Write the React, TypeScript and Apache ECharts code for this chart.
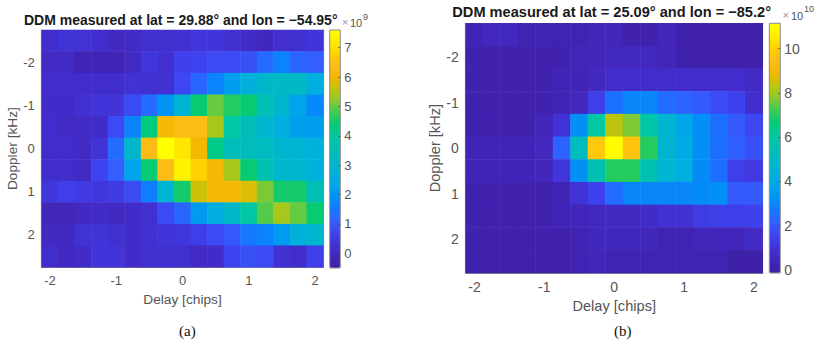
import React, { useEffect, useRef } from "react";
import * as echarts from "echarts";

const delays = ["-2","-1.75","-1.5","-1.25","-1","-0.75","-0.5","-0.25","0","0.25","0.5","0.75","1","1.25","1.5","1.75","2"];
const dopplers = ["-2.5","-2","-1.5","-1","-0.5","0","0.5","1","1.5","2","2.5"];

const ddmA: number[][] = [
  [0.15,0.3,0.3,0.15,0,0.05,0.2,0.2,0.2,0.4,0.35,0.2,0.1,-0.05,0.2,0.2,0.35],
  [0.05,0.05,-0.2,-0.2,-0.2,0.05,0.4,0.2,0.65,0.7,0.8,0.8,0.9,1.3,1.7,1.2,1.1],
  [0.15,0.15,0.15,0.15,0.15,0.3,0.25,0.25,0.75,1.2,1.7,2.2,2.7,3.1,3.2,3.2,2.6],
  [0.1,0.1,0.25,0.35,0.35,0.8,1.3,2.0,2.9,4.4,5.0,4.6,4.4,3.5,3.0,2.3,1.8],
  [0.15,0.05,0.05,0.1,0.8,1.7,4.3,6.1,6.3,6.3,5.4,3.9,3.4,3.0,2.6,2.2,2.2],
  [0.15,0.15,0.05,0.3,1.3,3.1,6.3,7.6,7.1,6.0,4.2,3.4,3.4,3.3,3.0,2.9,2.7],
  [0.15,0.15,0.05,0.7,1.1,2.3,4.4,6.3,7.3,6.8,6.1,5.4,4.4,3.6,3.0,3.0,2.7],
  [0.4,0.6,0.5,0.4,0.5,0.8,1.6,2.9,4.5,5.7,6.1,6.1,5.8,5.1,4.5,4.5,3.5],
  [-0.15,-0.15,0,0.1,0,0.1,0.2,0.8,1.2,2.1,2.6,3.1,3.9,4.9,5.4,5.0,4.4],
  [0,0,0.3,0.35,0.2,0.1,0.2,0.35,0.4,0.6,0.8,1.0,1.5,1.7,2.1,2.7,3.0],
  [0.15,0,0.1,0.35,0.35,0.1,0.2,0.2,0.2,0.05,0.1,0.7,0.9,0.8,0.25,0.15,0.6],
];

const ddmB: number[][] = [
  [0.2,0.5,0.5,0.15,0.15,0.15,0.15,0.35,0.35,0.1,0.1,0.35,0.05,0.05,0.05,0.05,0.05],
  [0.1,0.1,0.1,0.1,0.1,0.1,0.35,0.35,0.5,0.5,0.5,0.35,0.05,0.05,0.05,0.05,0.05],
  [0.1,0.1,0.1,0.1,0.1,0.25,0.3,0.5,0.75,0.75,0.75,0.75,0.75,0.75,0.75,0.75,0.6],
  [0.1,0.1,0.1,0.1,0.1,0.2,0.5,1.4,2.5,3.0,3.0,2.4,2.2,2.0,1.7,1.5,0.8],
  [0.1,0.1,0.1,0.1,0.35,1.0,3.2,6.0,8.3,7.7,5.9,4.7,3.8,3.2,2.5,2.0,1.6],
  [0.3,0.3,0.3,0.3,0.5,2.2,5.2,9.8,11.1,9.7,7.0,4.7,4.0,3.2,2.5,2.1,1.8],
  [0.3,0.3,0.3,0.3,0.45,1.1,3.2,5.5,7.0,7.0,5.5,4.6,4.2,3.1,2.5,1.4,1.2],
  [0.1,0.1,0.1,0.1,0.1,0.25,1.0,1.5,2.4,3.0,3.0,3.0,3.0,3.1,3.2,2.0,2.0],
  [0.1,0.1,0.1,0.1,0.1,0.3,0.4,0.5,0.55,0.55,0.7,0.9,0.9,1.3,1.4,1.4,1.5],
  [0.05,0.05,0.05,0.05,0.05,0.05,0.2,0.45,0.45,0.45,0.45,0.2,0.2,0.4,0.4,0.4,0.6],
  [0.05,0.05,0.05,0.05,0.05,0.05,0.2,0.4,0.2,0.2,0.2,0.2,0.2,0.2,0.2,-0.05,-0.05],
];

const ticksA = [0,1,2,3,4,5,6,7];
const ticksB = [0,2,4,6,8,10];
const parula = [
  "#3F1FA5","#4226BC","#4132D6","#3E44F0","#3160FF","#1478FF","#0092F6","#00A6EA","#00B2DA","#00B8C8",
  "#00C0B2","#00C8A2","#00CB75","#38CC55","#88CA30","#BEC50C","#F2B800","#FFBC1A","#FFD000","#FFEE00","#FFFF00",
];

const tickColor = "#555";
const frame = "#8a8a8a";
const font = "Liberation Sans";

function cells(rows: number[][]) {
  const out: number[][] = [];
  rows.forEach((r, y) => r.forEach((v, x) => out.push([x, y, v])));
  return out;
}

const everyFourth = (i: number) => i % 4 === 0;
const oddRow = (i: number) => i % 2 === 1;

function panelAxes(gridIndex: number, tickSize: number, nameSize: number, xGap: number, yGap: number) {
  const tick = { show: true, inside: true, length: 3, alignWithLabel: true, lineStyle: { color: "#333", width: 0.7 } };
  const line = { show: true, lineStyle: { color: frame, width: 1.2 } };
  const label = { color: tickColor, fontFamily: font, fontSize: tickSize, margin: 7 };
  const name = { color: tickColor, fontFamily: font, fontSize: nameSize };
  const x = (position: string, labelled: boolean) => ({
    type: "category", gridIndex, position, data: delays, axisLine: { ...line, onZero: false },
    axisTick: { ...tick, interval: everyFourth }, splitLine: { show: false },
    axisLabel: labelled ? { ...label, interval: everyFourth } : { show: false },
    ...(labelled ? { name: "Delay [chips]", nameLocation: "middle", nameGap: xGap, nameTextStyle: name } : {}),
  });
  const y = (position: string, labelled: boolean) => ({
    type: "category", gridIndex, position, inverse: true, data: dopplers, axisLine: { ...line, onZero: false },
    axisTick: { ...tick, interval: oddRow }, splitLine: { show: false },
    axisLabel: labelled ? { ...label, interval: oddRow } : { show: false },
    ...(labelled ? { name: "Doppler [kHz]", nameLocation: "middle", nameGap: yGap, nameTextStyle: name } : {}),
  });
  return { x: [x("bottom", true), x("top", false)], y: [y("left", true), y("right", false)] };
}

function barAxes(gridIndex: number, min: number, max: number, ticks: number[], size: number) {
  return {
    type: "value", gridIndex, position: "right", min, max, z: 6,
    splitLine: { show: false }, axisLine: { show: false },
    axisTick: { show: true, inside: true, length: 2, customValues: ticks, lineStyle: { color: "#333", width: 0.7 } },
    axisLabel: { color: tickColor, fontFamily: font, fontSize: size, margin: 4, customValues: ticks },
  };
}

const rangeA = [-0.5, 7.6];
const rangeB = [-0.14, 11.15];

export default function App() {
  const ref = useRef<HTMLDivElement>(null);
  useEffect(() => {
    document.body.style.margin = "0";
    const chart = echarts.init(ref.current!, null, { renderer: "svg" });
    const a = panelAxes(0, 13, 13.7, 22, 19);
    const b = panelAxes(1, 14, 14.6, 23, 23);
    const noX = (gridIndex: number) => ({ type: "category", gridIndex, data: [""], show: false });
    const txt = (x: number, y: number, text: string, fontSize: number, fill: string, extra: any = {}) => ({
      type: "text", x, y, silent: true,
      style: { text, fontSize, fill, fontFamily: font, verticalAlign: "middle", ...extra },
    });
    chart.setOption({
      animation: false,
      backgroundColor: "#fff",
      grid: [
        { left: 41.7, top: 30, width: 281.6, height: 237.3 },
        { left: 465.7, top: 23.3, width: 297, height: 249.7 },
        { left: 329.7, top: 30, width: 10.6, height: 238 },
        { left: 769.3, top: 23.3, width: 11, height: 249.7 },
      ],
      xAxis: [...a.x, ...b.x, noX(2), noX(3)],
      yAxis: [...a.y, ...b.y, barAxes(2, rangeA[0], rangeA[1], ticksA, 13), barAxes(3, rangeB[0], rangeB[1], ticksB, 14)],
      visualMap: [
        { type: "continuous", seriesIndex: 0, min: rangeA[0], max: rangeA[1], calculable: false, showLabel: false,
          padding: 0, left: 329.7, top: 30, itemWidth: 10.6, itemHeight: 238, inRange: { color: parula } },
        { type: "continuous", seriesIndex: 1, min: rangeB[0], max: rangeB[1], calculable: false, showLabel: false,
          padding: 0, left: 769.3, top: 23.3, itemWidth: 11, itemHeight: 249.7, inRange: { color: parula } },
      ],
      series: [
        { type: "heatmap", xAxisIndex: 0, yAxisIndex: 0, data: cells(ddmA), silent: true, itemStyle: { borderWidth: 0 } },
        { type: "heatmap", xAxisIndex: 2, yAxisIndex: 2, data: cells(ddmB), silent: true, itemStyle: { borderWidth: 0 } },
      ],
      graphic: [
        { type: "rect", z: 20, silent: true, shape: { x: 329.7, y: 30, width: 10.6, height: 238 }, style: { fill: "none", stroke: frame, lineWidth: 1 } },
        { type: "rect", z: 20, silent: true, shape: { x: 769.3, y: 23.3, width: 11, height: 249.7 }, style: { fill: "none", stroke: frame, lineWidth: 1 } },
        txt(24, 20, "DDM measured at lat = 29.88° and lon = −54.95°", 14, "#1a1a1a", { fontWeight: "bold" }),
        txt(342, 22, "×", 11, "#999"),
        txt(350, 22.5, "10", 11, tickColor),
        txt(363, 16.5, "9", 9, tickColor),
        txt(452.3, 12.3, "DDM measured at lat = 25.09° and lon = −85.2°", 14.6, "#1a1a1a", { fontWeight: "bold" }),
        txt(782.5, 15, "×", 11, "#999"),
        txt(791, 15.5, "10", 11, tickColor),
        txt(804, 8.5, "10", 9, tickColor),
        txt(179, 331, "(a)", 15, "#111", { fontFamily: "Liberation Serif" }),
        txt(614, 331, "(b)", 15, "#111", { fontFamily: "Liberation Serif" }),
      ],
    });
    return () => chart.dispose();
  }, []);
  return <div ref={ref} style={{ position: "fixed", left: 0, top: 0, width: 829, height: 347 }} />;
}
